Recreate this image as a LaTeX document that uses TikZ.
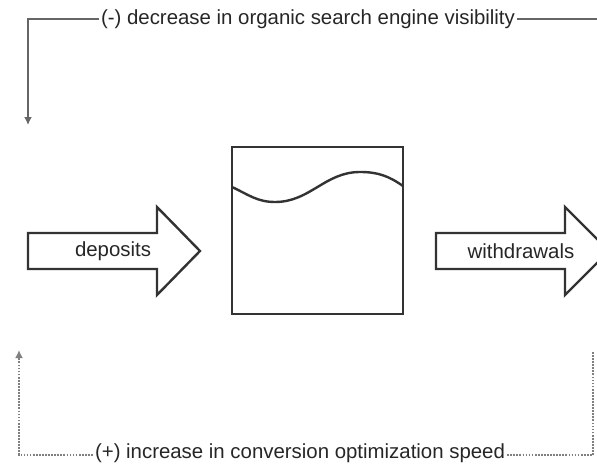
\documentclass[tikz,border=0pt]{standalone}
\usepackage{fontspec}
\setmainfont{Liberation Sans}
\usetikzlibrary{arrows.meta}

\begin{document}
\begin{tikzpicture}[x=0.75pt,y=-0.75pt,
        loopline/.style={draw=black!60,line width=1.3pt},
        dotline/.style={draw=black!50,line width=1.3pt,densely dotted},
        flowarrow/.style={draw=black!80,line width=1.8pt,line join=miter},
        label/.style={text=black!85,font=\fontsize{15.3}{18}\selectfont,inner sep=1.5pt}]
        \useasboundingbox (0,0) rectangle (597,468);
        \clip (0,0) rectangle (597,468);

        % tank
        \draw[flowarrow](232,147)rectangle(403,314);
        \draw[flowarrow](232,187)to[out=-25,in=180](275,202)to[out=0,in=180](360,172)to[out=0,in=145](403,186);

        % inflow and outflow
        \draw[flowarrow](28,233)--(157,233)--(157,207)--(200,251)--(157,295)--(157,269)--(28,269)--cycle;
        \node[label] (dep) at (113,251) {deposits};
        \draw[flowarrow](436,233)--(565,233)--(565,207)--(609,251)--(565,295)--(565,269)--(436,269)--cycle;
        \node[label] (wd) at (521,251) {withdrawals};

        % negative loop
        \node[label] (neg) at (308,19) {(-) decrease in organic search engine visibility};
        \coordinate (nl) at (28,19);
        \coordinate (nlend) at (28,125);
        \coordinate (nr) at (605,19);
        \draw[loopline,-{Latex[length=6pt,width=6pt]}](neg.west)--(nl)--(nlend);
        \draw[loopline](neg.east)--(nr);

        % positive loop
        \node[label] (pos) at (300,453) {(+) increase in conversion optimization speed};
        \coordinate (pl) at (19,455);
        \coordinate (plend) at (19,350);
        \coordinate (pr) at (593,455);
        \coordinate (prend) at (593,352);
        \draw[dotline,-{Latex[length=6pt,width=6pt]}](pos.west|-pl)--(pl)--(plend);
        \draw[dotline](pos.east|-pr)--(pr)--(prend);
\end{tikzpicture}
\end{document}
